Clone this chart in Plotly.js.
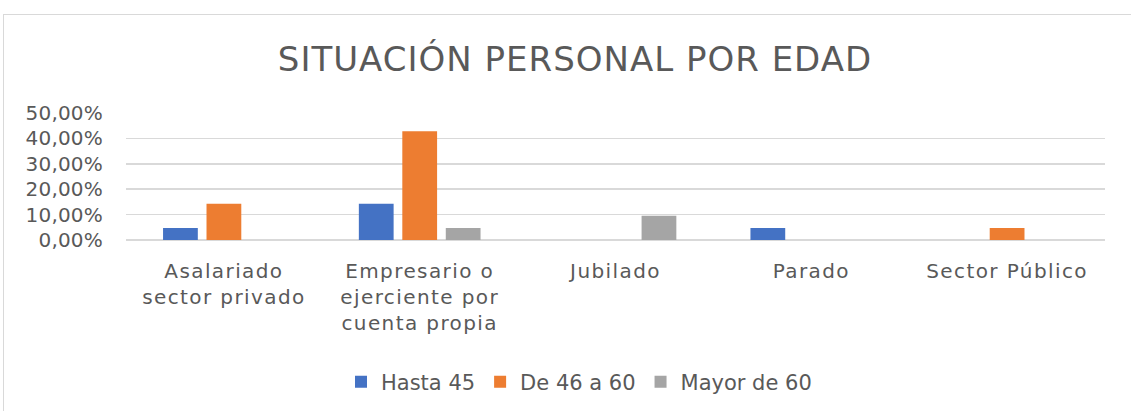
<!DOCTYPE html>
<html>
<head>
<meta charset="utf-8">
<script src="https://cdn.plot.ly/plotly-3.0.1.min.js"></script>
<style>
  body { margin: 0; background: #ffffff; }
  #frame { position: absolute; left: 3px; top: 14px; width: 1140px; height: 410px;
           border-left: 1px solid #d9d9d9; border-top: 1px solid #d9d9d9; }
  #chart { position: absolute; left: 0; top: 0; width: 1131px; height: 411px; }
  /* Century Gothic is wider than DejaVu, stretch a bit */
  #chart .xtick text { letter-spacing: 1.4px; }
  #chart .ytick text { letter-spacing: 0.2px; }
  #chart .gtitle { letter-spacing: 1px; }
</style>
</head>
<body>
<div id="frame"></div>
<div id="chart"></div>
<script>
// categorias y porcentajes (fraccion)
let categorias = [
  'Asalariado<br>sector privado',
  'Empresario o<br>ejerciente por<br>cuenta propia',
  'Jubilado',
  'Parado',
  'Sector Público'
];
let hasta_45 = [0.0476, 0.1429, 0, 0.0476, 0];
let de_46_a_60 = [0.1429, 0.4286, 0, 0, 0.0476];
let mayor_de_60 = [0, 0.0476, 0.0952, 0, 0];

let div_chart = document.getElementById('chart');
let font_name = 'DejaVu Sans';
let gris_texto = '#595959';

function serie(nombre, valores, color)
{
  return {
    type: 'bar',
    name: nombre,
    x: categorias,
    y: valores,
    marker: {color: color, line: {width: 0}},
    hoverinfo: 'skip'
  };
}

let traces = [
  serie('Hasta 45', hasta_45, '#4472c4'),
  serie('De 46 a 60', de_46_a_60, '#ed7d31'),
  serie('Mayor de 60', mayor_de_60, '#a5a5a5')
];

let layout = {
  width: 1131,
  height: 411,
  paper_bgcolor: 'rgba(0,0,0,0)',
  plot_bgcolor: 'rgba(0,0,0,0)',
  separators: ',.',
  font: {family: font_name, color: gris_texto, size: 20},
  title: {
    text: 'SITUACIÓN PERSONAL POR EDAD',
    font: {family: font_name, size: 34, color: gris_texto},
    x: 575 / 1131, xref: 'container', xanchor: 'center',
    y: 1 - 59 / 411, yref: 'container', yanchor: 'middle'
  },
  margin: {l: 126, r: 26, t: 113, b: 171},
  barmode: 'group',
  bargap: 0.334,
  bargroupgap: 0.2,
  xaxis: {
    type: 'category',
    tickfont: {size: 20, color: gris_texto},
    ticks: '',
    showline: false,
    showgrid: false,
    ticklabelstandoff: 17
  },
  yaxis: {
    range: [0, 0.5],
    dtick: 0.1,
    tickformat: '.2%',
    tickfont: {size: 20, color: gris_texto},
    showgrid: true,
    gridcolor: '#d9d9d9',
    gridwidth: 1.5,
    zeroline: true,
    zerolinecolor: '#d9d9d9',
    zerolinewidth: 1.5,
    ticklabelstandoff: 22
  },
  legend: {
    orientation: 'h',
    x: 579 / 1131, xref: 'container', xanchor: 'center',
    y: 1 - 382 / 411, yref: 'container', yanchor: 'middle',
    font: {size: 21, color: gris_texto},
    itemwidth: 30
  },
  showlegend: true
};

Plotly.newPlot(div_chart, traces, layout, {displayModeBar: false, staticPlot: true});
</script>
</body>
</html>
